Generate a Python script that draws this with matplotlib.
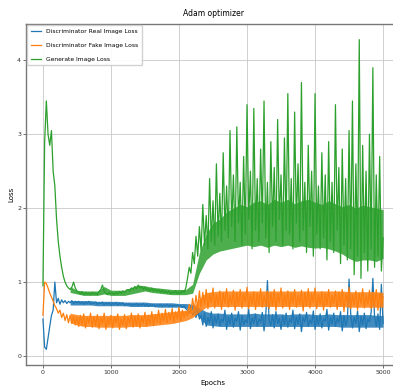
import matplotlib
matplotlib.use("Agg")
import matplotlib.pyplot as plt
import numpy as np

plt.rcParams['font.family'] = ['DejaVu Sans']

epochs = np.arange(0, 5001, 25)

real_loss = [
    0.50, 0.12, 0.09, 0.25, 0.40, 0.55, 0.62, 1.00, 0.72, 0.78, 0.70, 0.76, 0.72, 0.75, 0.71, 0.74, 0.72, 0.75, 0.71, 0.74, 0.72,
    0.74, 0.71, 0.73, 0.70, 0.73, 0.71, 0.74, 0.70, 0.72, 0.71,
    0.73, 0.70, 0.72, 0.71, 0.73, 0.69, 0.72, 0.70, 0.72, 0.69,
    0.71, 0.70, 0.72, 0.69, 0.71, 0.70, 0.72, 0.68, 0.71, 0.69,
    0.71, 0.68, 0.70, 0.69, 0.71, 0.68, 0.70, 0.69, 0.71, 0.68,
    0.70, 0.67, 0.70, 0.68, 0.70, 0.67, 0.69, 0.68, 0.70, 0.67,
    0.69, 0.68, 0.70, 0.67, 0.69, 0.67, 0.69, 0.68, 0.69, 0.67,
    0.68, 0.66, 0.68, 0.64,
    0.62, 0.58, 0.66, 0.55, 0.60, 0.52, 0.63, 0.50,
    0.55, 0.42, 0.58, 0.40, 0.52, 0.45, 0.60, 0.38, 0.54, 0.44,
    0.57, 0.41, 0.50, 0.46, 0.62, 0.36, 0.53, 0.43, 0.58, 0.39,
    0.51, 0.47, 0.60, 0.35, 0.55, 0.42, 0.49, 0.45, 0.63, 0.37,
    0.52, 0.44, 0.57, 0.40, 0.50, 0.46, 0.59, 0.34, 0.54, 1.02,
    0.48, 0.41, 0.56, 0.38, 0.60, 0.44, 0.51, 0.36, 0.55, 0.42,
    0.58, 0.39, 0.50, 0.45, 0.62, 0.37, 0.53, 0.43, 0.57, 0.33,
    0.52, 0.46, 0.59, 0.40, 0.49, 0.44, 0.61, 0.36, 0.54, 0.42,
    0.57, 0.38, 0.50, 0.47, 0.63, 0.35, 0.52, 0.43, 0.58, 0.40,
    0.51, 0.45, 0.60, 0.34, 0.55, 0.41, 0.49, 1.04, 0.56, 0.38,
    0.52, 0.44, 0.61, 0.33, 0.54, 0.42, 0.58, 0.37, 0.50, 0.46,
    0.59, 1.05, 0.53, 0.40, 0.57, 0.36, 0.97, 0.44,
]

fake_loss = [
    0.55, 1.00, 0.98, 0.92, 0.85, 0.80, 0.74, 0.68, 0.64, 0.58, 0.62, 0.52, 0.58, 0.48, 0.56, 0.45, 0.55, 0.44, 0.54, 0.42, 0.53,
    0.40, 0.55, 0.42, 0.57, 0.38, 0.52, 0.45, 0.58, 0.39, 0.53,
    0.41, 0.56, 0.37, 0.52, 0.44, 0.58, 0.36, 0.51, 0.43, 0.55,
    0.38, 0.53, 0.45, 0.57, 0.36, 0.50, 0.42, 0.56, 0.37, 0.52,
    0.44, 0.58, 0.39, 0.54, 0.41, 0.57, 0.38, 0.53, 0.45, 0.59,
    0.40, 0.55, 0.43, 0.60, 0.41, 0.56, 0.46, 0.62, 0.44, 0.58,
    0.47, 0.63, 0.45, 0.59, 0.49, 0.64, 0.46, 0.60, 0.50, 0.66,
    0.48, 0.62, 0.52, 0.60,
    0.55, 0.70, 0.58, 0.78, 0.62, 0.82, 0.65, 0.88,
    0.66, 0.86, 0.70, 0.90, 0.64, 0.84, 0.72, 0.92, 0.65, 0.83,
    0.69, 0.88, 0.63, 0.85, 0.71, 0.91, 0.66, 0.82, 0.70, 0.89,
    0.62, 0.86, 0.68, 0.90, 0.65, 0.84, 0.72, 0.93, 0.64, 0.83,
    0.70, 0.87, 0.63, 0.85, 0.69, 0.91, 0.66, 0.82, 0.71, 0.88,
    0.64, 0.86, 0.68, 0.90, 0.62, 0.84, 0.72, 0.92, 0.65, 0.83,
    0.69, 0.88, 0.63, 0.85, 0.71, 0.90, 0.66, 0.82, 0.70, 0.89,
    0.61, 0.86, 0.68, 0.91, 0.65, 0.84, 0.72, 0.92, 0.64, 0.83,
    0.70, 0.87, 0.62, 0.85, 0.69, 0.90, 0.66, 0.82, 0.71, 0.88,
    0.63, 0.86, 0.68, 0.90, 0.60, 0.84, 0.72, 0.93, 0.64, 0.83,
    0.69, 0.88, 0.62, 0.85, 0.71, 0.91, 0.65, 0.82, 0.70, 0.89,
    0.64, 0.86, 0.68, 0.90, 0.62, 0.85, 0.71, 0.80,
]

gen_loss = [
    0.95, 2.90, 3.45, 3.00, 2.85, 3.05, 2.50, 2.30, 1.85, 1.55, 1.35, 1.20, 1.08, 1.00, 0.95, 0.92, 0.90, 0.93, 1.00, 0.92, 0.88,
    0.86, 0.84, 0.87, 0.83, 0.86, 0.84, 0.85, 0.83, 0.86, 0.84,
    0.85, 0.83, 0.87, 0.90, 0.96, 0.88, 0.85, 0.83, 0.86, 0.84,
    0.85, 0.83, 0.86, 0.84, 0.87, 0.85, 0.88, 0.86, 0.89, 0.90,
    0.88, 0.92, 0.90, 0.94, 0.91, 0.96, 0.92, 0.94, 0.90, 0.93,
    0.89, 0.91, 0.88, 0.92, 0.88, 0.90, 0.87, 0.90, 0.86, 0.89,
    0.86, 0.88, 0.85, 0.88, 0.84, 0.87, 0.85, 0.88, 0.84, 0.87,
    0.85, 0.88, 0.86, 0.92,
    1.05, 1.20, 1.12, 1.40, 1.25, 1.62, 1.35, 1.75, 1.42, 2.05,
    1.50, 1.90, 1.45, 2.40, 1.55, 2.10, 1.50, 2.60, 1.62, 2.20,
    1.55, 2.75, 1.70, 2.30, 1.60, 3.05, 1.75, 2.45, 1.55, 3.10,
    1.80, 2.35, 1.50, 2.70, 1.65, 3.40, 1.85, 2.50, 1.45, 3.35,
    1.70, 2.40, 1.55, 2.80, 1.80, 3.45, 1.60, 2.35, 1.40, 2.90,
    1.75, 2.55, 1.55, 3.20, 1.85, 2.45, 1.50, 2.95, 1.70, 3.55,
    1.65, 2.40, 1.45, 3.30, 1.80, 2.60, 1.55, 3.70, 1.70, 2.35,
    1.40, 2.85, 1.75, 2.50, 1.35, 3.55, 1.65, 2.30, 1.45, 2.75,
    1.60, 2.45, 1.30, 2.90, 1.55, 2.35, 1.40, 3.40, 1.70, 2.55,
    1.25, 2.80, 1.50, 2.40, 1.30, 3.05, 1.45, 3.45, 1.10, 2.60,
    1.35, 4.28, 1.05, 2.85, 1.40, 2.50, 1.15, 3.00, 1.45, 3.90,
    1.20, 2.45, 1.35, 2.70, 1.15, 1.60,
]

# dense core of each noisy band, read every 100 epochs from 400 to 5000
band_epochs = np.arange(400, 5001, 100)

real_low = [0.69, 0.69, 0.69, 0.69, 0.68, 0.68, 0.68, 0.68, 0.68, 0.67, 0.67, 0.67,
            0.67, 0.66, 0.66, 0.66, 0.66, 0.65, 0.62, 0.52, 0.42, 0.41, 0.40, 0.40,
            0.40, 0.40, 0.40, 0.40, 0.40, 0.40, 0.40, 0.40, 0.40, 0.40, 0.40, 0.40,
            0.40, 0.40, 0.40, 0.40, 0.39, 0.39, 0.39, 0.39, 0.39, 0.39, 0.39]
real_high = [0.75, 0.75, 0.75, 0.75, 0.74, 0.74, 0.74, 0.74, 0.73, 0.73, 0.73, 0.73,
             0.72, 0.72, 0.72, 0.72, 0.71, 0.71, 0.70, 0.65, 0.60, 0.58, 0.58, 0.57,
             0.57, 0.57, 0.57, 0.58, 0.57, 0.57, 0.57, 0.57, 0.56, 0.57, 0.57, 0.57,
             0.56, 0.56, 0.57, 0.56, 0.56, 0.56, 0.56, 0.56, 0.56, 0.55, 0.55]

fake_low = [0.45, 0.42, 0.40, 0.40, 0.39, 0.39, 0.39, 0.39, 0.39, 0.40, 0.40, 0.40,
            0.41, 0.42, 0.43, 0.44, 0.46, 0.48, 0.52, 0.60, 0.66, 0.67, 0.67, 0.67,
            0.67, 0.67, 0.67, 0.67, 0.67, 0.67, 0.67, 0.67, 0.67, 0.67, 0.67, 0.67,
            0.67, 0.67, 0.67, 0.67, 0.67, 0.66, 0.66, 0.66, 0.66, 0.66, 0.66]
fake_high = [0.58, 0.56, 0.55, 0.55, 0.55, 0.55, 0.55, 0.55, 0.55, 0.56, 0.56, 0.56,
             0.57, 0.58, 0.59, 0.60, 0.61, 0.62, 0.64, 0.78, 0.86, 0.87, 0.88, 0.88,
             0.88, 0.88, 0.88, 0.88, 0.88, 0.88, 0.88, 0.88, 0.88, 0.88, 0.88, 0.88,
             0.88, 0.88, 0.88, 0.88, 0.88, 0.87, 0.87, 0.87, 0.87, 0.87, 0.86]

gen_low = [0.86, 0.84, 0.82, 0.82, 0.82, 0.84, 0.82, 0.82, 0.82, 0.84, 0.86, 0.88,
           0.86, 0.85, 0.84, 0.83, 0.83, 0.83, 0.85, 1.12, 1.30, 1.38, 1.42, 1.44,
           1.46, 1.48, 1.50, 1.48, 1.50, 1.47, 1.50, 1.48, 1.50, 1.47, 1.49, 1.47,
           1.46, 1.47, 1.45, 1.42, 1.38, 1.32, 1.28, 1.30, 1.30, 1.28, 1.32]
gen_high = [0.94, 0.89, 0.88, 0.88, 0.88, 0.94, 0.89, 0.89, 0.89, 0.93, 0.96, 0.95,
            0.93, 0.92, 0.91, 0.90, 0.90, 0.90, 0.97, 1.40, 1.65, 1.80, 1.85, 1.95,
            2.00, 2.05, 2.02, 2.08, 2.10, 2.05, 2.12, 2.08, 2.12, 2.06, 2.10, 2.12,
            2.08, 2.05, 2.10, 2.06, 2.02, 2.05, 2.00, 2.04, 2.02, 2.00, 1.98]

labels = ['Discriminator Real Image Loss', 'Discriminator Fake Image Loss', 'Generate Image Loss']
colors = ['#1f77b4', '#ff7f0e', '#2ca02c']

fig = plt.figure(figsize=(3.93, 3.89), dpi=100)
ax = fig.add_axes([0.066, 0.062, 0.952, 0.876])

series = [(real_loss, real_low, real_high), (fake_loss, fake_low, fake_high), (gen_loss, gen_low, gen_high)]
for k, (vals, lo, hi) in enumerate(series):
    ax.fill_between(band_epochs, lo, hi, color=colors[k], alpha=0.85, linewidth=0, zorder=2 + k)
    ax.plot(epochs, vals, color=colors[k], linewidth=0.9, label=labels[k], zorder=2 + k)

ax.set_xlim(-250, 5250)
ax.set_ylim(-0.12, 4.49)
ax.set_xticks([0, 1000, 2000, 3000, 4000, 5000])
ax.set_yticks([0, 1, 2, 3, 4])
ax.tick_params(labelsize=4.5, length=2, width=0.5, pad=1.5, colors='#333333')
ax.grid(True, color='#c8c8c8', linewidth=0.6)

for side in ['left', 'bottom', 'top']:
    ax.spines[side].set_color('#777777')
    ax.spines[side].set_linewidth(1.0)

ax.set_title('Adam optimizer', fontsize=5.5, pad=6)
ax.set_xlabel('Epochs', fontsize=5, labelpad=4)
ax.set_ylabel('Loss', fontsize=5, labelpad=2)
ax.legend(loc='upper left', fontsize=4.3, labelspacing=1.45, handlelength=1.8,
          borderpad=0.6, borderaxespad=0.2, framealpha=0.9, edgecolor='#cccccc', fancybox=True)

plt.savefig('out.png', dpi=100)
